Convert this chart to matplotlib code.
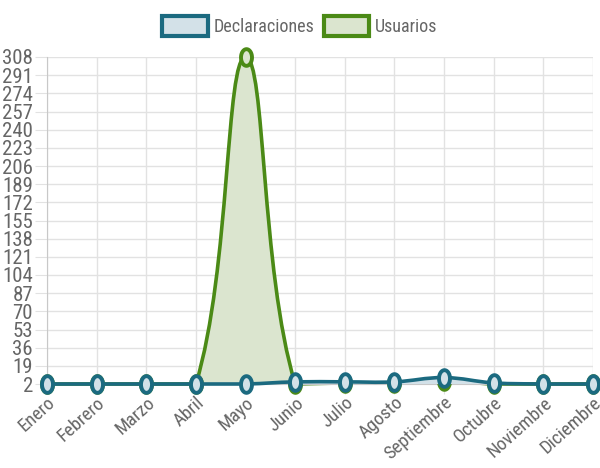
import numpy as np
import matplotlib
matplotlib.use("Agg")
import matplotlib.pyplot as plt
from matplotlib.path import Path
from matplotlib.patches import PathPatch, Patch
from matplotlib.markers import MarkerStyle
from matplotlib.transforms import ScaledTranslation

months = ["Enero", "Febrero", "Marzo", "Abril", "Mayo", "Junio", "Julio",
          "Agosto", "Septiembre", "Octubre", "Noviembre", "Diciembre"]
declaraciones = [2, 2, 2, 2, 2, 4, 4, 4, 8, 3, 2, 2]
usuarios = [2, 2, 2, 2, 308, 2, 3, 3, 5, 2, 2, 2]
yticks = list(range(2, 309, 17))

plt.rcParams["font.family"] = ["Roboto Condensed", "DejaVu Sans"]

W, H = 600, 468
fig = plt.figure(figsize=(W / 100, H / 100), dpi=100)
L, R, T, B = 47, 593, 57, 384
ax = fig.add_axes([L / W, 1 - B / H, (R - L) / W, (B - T) / H])
ymin, ymax = 2, 308
ax.set_xlim(0, len(months) - 1)
ax.set_ylim(ymin, ymax)

pxx = (R - L) / (len(months) - 1)
pxy = (B - T) / (ymax - ymin)


def spline_path(vals, tension=0.4):
    xs = np.arange(len(vals), dtype=float) * pxx
    ys = -(np.array(vals, dtype=float) - ymin) * pxy
    n = len(vals)
    cps = []
    for i in range(n):
        p0 = (xs[max(i - 1, 0)], ys[max(i - 1, 0)])
        p1 = (xs[i], ys[i])
        p2 = (xs[min(i + 1, n - 1)], ys[min(i + 1, n - 1)])
        d01 = np.hypot(p1[0] - p0[0], p1[1] - p0[1])
        d12 = np.hypot(p2[0] - p1[0], p2[1] - p1[1])
        tot = d01 + d12
        s01 = d01 / tot if tot else 0
        s12 = d12 / tot if tot else 0
        fa, fb = tension * s01, tension * s12
        prev = (p1[0] - fa * (p2[0] - p0[0]), p1[1] - fa * (p2[1] - p0[1]))
        nxt = (p1[0] + fb * (p2[0] - p0[0]), p1[1] + fb * (p2[1] - p0[1]))
        cps.append((prev, nxt))
    top = -(ymax - ymin) * pxy

    def cap(p):
        return (min(max(p[0], 0), xs[-1]), min(max(p[1], top), 0))

    def to_data(p):
        return (p[0] / pxx, ymin - p[1] / pxy)

    verts = [to_data((xs[0], ys[0]))]
    codes = [Path.MOVETO]
    for i in range(n - 1):
        verts += [to_data(cap(cps[i][1])), to_data(cap(cps[i + 1][0])),
                  to_data((xs[i + 1], ys[i + 1]))]
        codes += [Path.CURVE4] * 3
    return verts, codes


# tall ellipse marker (the reference points look vertically elongated)
th = np.linspace(0, 2 * np.pi, 41)
ell = Path(np.column_stack([0.33 * np.cos(th), 0.5 * np.sin(th)]), closed=True)
ell_marker = MarkerStyle(ell)

series = [
    (usuarios, "#4b8a16", "#dbe5cf", 2),
    (declaraciones, "#1b6a80", "#d3e1e8", 3),
]
for vals, edge, fill, z in series:
    verts, codes = spline_path(vals)
    fv = verts + [(len(vals) - 1, ymin - 5), (0, ymin - 5), verts[0]]
    fc = codes + [Path.LINETO, Path.LINETO, Path.CLOSEPOLY]
    ax.add_patch(PathPatch(Path(fv, fc), facecolor=fill, edgecolor="none", zorder=z))
    ax.add_patch(PathPatch(Path(verts, codes), facecolor="none", edgecolor=edge,
                           lw=2.6, zorder=z + 0.5, clip_on=False))
    ax.plot(range(len(vals)), vals, ls="none", marker=ell_marker, ms=12,
            mfc=fill, mec=edge, mew=2.8, zorder=z + 0.6, clip_on=False)

ax.set_yticks(yticks)
ax.set_yticklabels([str(v) for v in yticks])
ax.set_xticks(range(len(months)))
ax.set_xticklabels(months, rotation=42, ha="right", va="top", rotation_mode="anchor")
shift = ScaledTranslation(-5 / 100, 0, fig.dpi_scale_trans)
for lab in ax.get_xticklabels():
    lab.set_transform(lab.get_transform() + shift)
ax.grid(True, color="#e2e2e2", lw=1)
ax.set_axisbelow(True)
for s in ["top", "right"]:
    ax.spines[s].set_visible(False)
for s in ["left", "bottom"]:
    ax.spines[s].set_color("#c8c8c8")
ax.tick_params(axis="both", color="#e2e2e2", labelcolor="#666666")
ax.tick_params(axis="y", labelsize=15, pad=1, length=9)
ax.tick_params(axis="x", labelsize=13.5, pad=0, length=7)

handles = [Patch(facecolor="#d3e1e8", edgecolor="#1b6a80", lw=3, label="Declaraciones"),
           Patch(facecolor="#dbe5cf", edgecolor="#4b8a16", lw=3, label="Usuarios")]
fig.legend(handles=handles, loc="upper center", bbox_to_anchor=(0.5, 1.0), ncol=2,
           frameon=False, fontsize=13, handlelength=2.5, handleheight=1.3,
           handletextpad=0.35, columnspacing=0.5, labelcolor="#666666",
           borderaxespad=0.5)

fig.savefig("out.png", dpi=100)
